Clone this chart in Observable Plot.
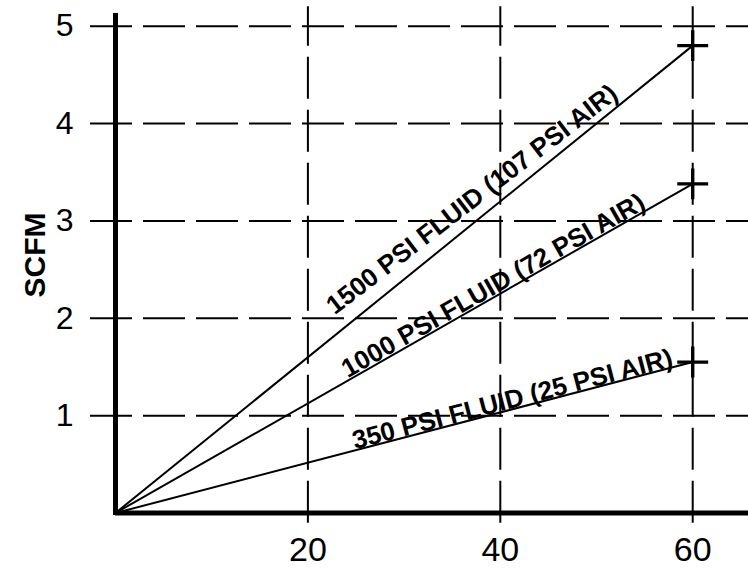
<!DOCTYPE html>
<html>
<head>
<meta charset="utf-8">
<script src="https://cdn.jsdelivr.net/npm/d3@7"></script>
<script src="https://cdn.jsdelivr.net/npm/@observablehq/plot@0.6"></script>
<style>
  html, body { margin: 0; padding: 0; background: #fff; }
  #chart svg { display: block; }
</style>
</head>
<body>
<div id="chart"></div>
<script>
// ---- data ----
const seriesLabels = ["1500 PSI FLUID (107 PSI AIR)", "1000 PSI FLUID (72 PSI AIR)", "350 PSI FLUID (25 PSI AIR)"];
const endX = [60, 60, 60];
const endScfm = [4.8, 3.38, 1.55];
const labelAtX = [38.3, 39.8, 41.5];
const xTicks = [20, 40, 60];
const yTicks = [1, 2, 3, 4, 5];
const yTitle = "SCFM";

// ---- layout (styling only) ----
const labelLift = [11, 2, 1];      // px above the line
const labelTilt = [-1.5, 0, 0];    // degrees relative to the line
const xDomain = [0, 65.8];
const yDomain = [0, 5.13];

const series = seriesLabels.map((label, i) => ({
  label, x0: 0, y0: 0, x1: endX[i], y1: endScfm[i],
  lx: labelAtX[i], ly: endScfm[i] * labelAtX[i] / endX[i]
}));

const W = 748, H = 571;
const common = {
  width: W, height: H,
  marginLeft: 115, marginRight: 0, marginTop: 13, marginBottom: 58.5,
  x: { domain: xDomain },
  y: { domain: yDomain }
};

// first pass to get scales for text angles
const probe = Plot.plot({ ...common, marks: [Plot.frame({ stroke: "none" })] });
const sx = probe.scale("x"), sy = probe.scale("y");
series.forEach((d, i) => {
  const dx = sx.apply(d.x1) - sx.apply(d.x0);
  const dy = sy.apply(d.y1) - sy.apply(d.y0);
  const a = Math.atan2(-dy, dx); // upward angle, radians
  d.rot = -(a * 180 / Math.PI) - labelTilt[i];
  d.offx = -labelLift[i] * Math.sin(a);
  d.offy = -labelLift[i] * Math.cos(a);
});

const font = "'Liberation Sans', Arial, Helvetica, sans-serif";
const dash = "42,11";

const chart = Plot.plot({
  ...common,
  style: { fontFamily: font, background: "#fff", color: "#000" },
  marks: [
    // dashed grid
    Plot.ruleY(yTicks, { x1: -2.6, x2: xDomain[1], stroke: "#000", strokeWidth: 2, strokeDasharray: dash }),
    Plot.ruleX(xTicks, { y1: -0.105, y2: 5.2, stroke: "#000", strokeWidth: 2, strokeDasharray: dash }),
    // thick axes
    Plot.ruleY([0], { stroke: "#000", strokeWidth: 5 }),
    Plot.ruleX([0], { y1: -0.025, y2: yDomain[1], stroke: "#000", strokeWidth: 5 }),
    // tick labels
    Plot.axisX(xTicks, { tickSize: 0, tickPadding: 24, fontSize: 34, label: null, tickFormat: d => String(d) }),
    Plot.axisY(yTicks, { tickSize: 0, tickPadding: 42, fontSize: 32, label: null, tickFormat: d => String(d) }),
    Plot.text([yTitle], { x: () => -8.3, y: () => 2.65, rotate: -90, fontSize: 30, fontWeight: "bold", text: d => d, lineAnchor: "middle", textAnchor: "middle" }),
    // series lines
    Plot.link(series, { x1: "x0", y1: "y0", x2: "x1", y2: "y1", stroke: "#000", strokeWidth: 2 }),
    Plot.dot(series, { x: "x1", y: "y1", symbol: "plus", r: 10, stroke: "#000", strokeWidth: 3.4 }),
    // line labels
    ...series.map(d => Plot.text([d], {
      x: "lx", y: "ly", text: "label", rotate: d.rot,
      fontSize: 26, fontWeight: "bold", lineAnchor: "bottom", textAnchor: "middle",
      dx: d.offx, dy: d.offy
    }))
  ]
});
document.getElementById("chart").appendChild(chart);
</script>
</body>
</html>
